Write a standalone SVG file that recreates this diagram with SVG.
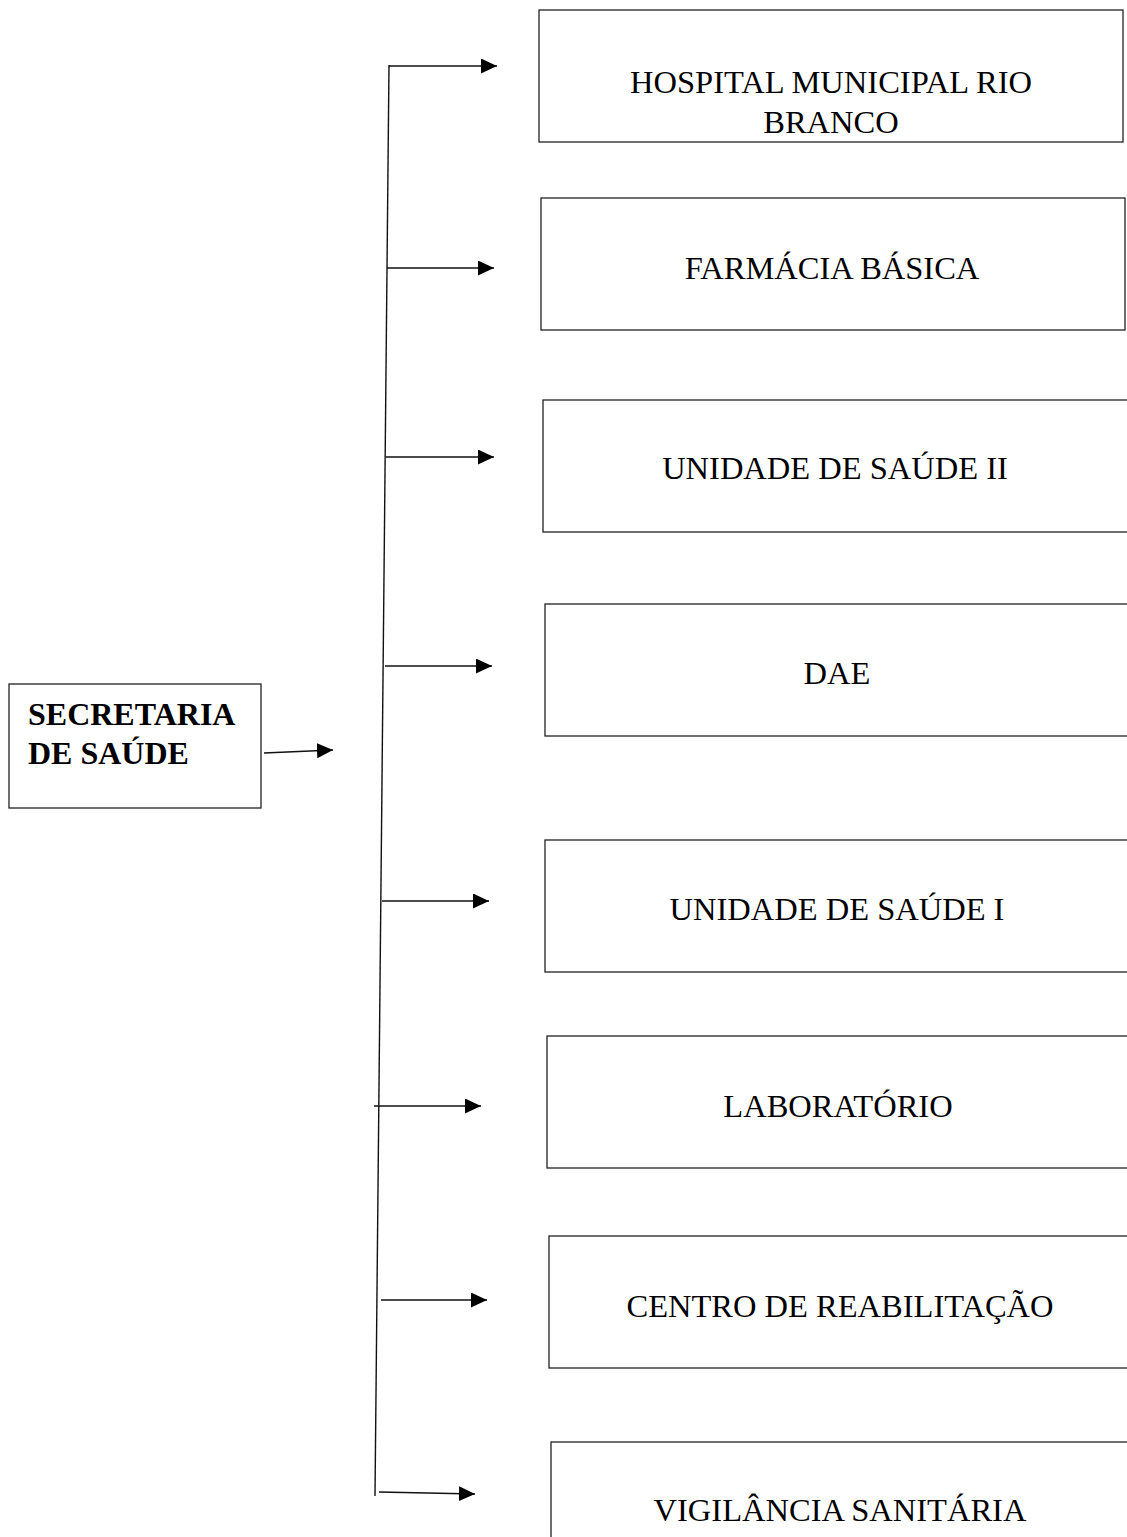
<svg xmlns="http://www.w3.org/2000/svg" width="1127" height="1537" viewBox="0 0 1127 1537">
  <style>
    .box { fill: #fff; stroke: #222; stroke-width: 1.3; }
    .lbl { font-family: "Liberation Serif", "Times New Roman", serif; font-size: 32.5px; fill: #000; text-anchor: middle; }
    .head { font-family: "Liberation Serif", "Times New Roman", serif; font-size: 32px; font-weight: bold; fill: #000; }
    .wire { stroke: #111; stroke-width: 1.4; fill: none; }
  </style>
  <defs>
    <marker id="arrow" markerUnits="userSpaceOnUse" markerWidth="16" markerHeight="16" refX="16" refY="7.5" orient="auto">
      <path d="M0,0 L16,7.5 L0,15 z" fill="#000"/>
    </marker>
  </defs>
  <rect width="1127" height="1537" fill="#fff"/>

  <!-- root node -->
  <g id="secretaria">
    <rect class="box" x="9" y="684" width="252" height="124"/>
    <text class="head" x="28" y="725">SECRETARIA</text>
    <text class="head" x="28" y="764">DE SAÚDE</text>
  </g>

  <!-- child nodes -->
  <g id="hospital">
    <rect class="box" x="539" y="10" width="584" height="132"/>
    <text class="lbl" x="831" y="93">HOSPITAL MUNICIPAL RIO</text>
    <text class="lbl" x="831" y="133">BRANCO</text>
  </g>
  <g id="farmacia">
    <rect class="box" x="541" y="198" width="584" height="132"/>
    <text class="lbl" x="832" y="279">FARMÁCIA BÁSICA</text>
  </g>
  <g id="unidade2">
    <rect class="box" x="543" y="400" width="586" height="132"/>
    <text class="lbl" x="835" y="479">UNIDADE DE SAÚDE II</text>
  </g>
  <g id="dae">
    <rect class="box" x="545" y="604" width="586" height="132"/>
    <text class="lbl" x="837" y="684">DAE</text>
  </g>
  <g id="unidade1">
    <rect class="box" x="545" y="840" width="586" height="132"/>
    <text class="lbl" x="837" y="920">UNIDADE DE SAÚDE I</text>
  </g>
  <g id="laboratorio">
    <rect class="box" x="547" y="1036" width="586" height="132"/>
    <text class="lbl" x="838" y="1117">LABORATÓRIO</text>
  </g>
  <g id="reabilitacao">
    <rect class="box" x="549" y="1236" width="586" height="132"/>
    <text class="lbl" x="840" y="1317">CENTRO DE REABILITAÇÃO</text>
  </g>
  <g id="vigilancia">
    <rect class="box" x="551" y="1442" width="586" height="132"/>
    <text class="lbl" x="840" y="1521">VIGILÂNCIA SANITÁRIA</text>
  </g>

  <!-- connectors -->
  <g id="connectors">
    <line class="wire" x1="264" y1="753" x2="333" y2="750" marker-end="url(#arrow)"/>
    <line class="wire" x1="389" y1="65" x2="375" y2="1496"/>
    <line class="wire" x1="389" y1="66" x2="497" y2="66" marker-end="url(#arrow)"/>
    <line class="wire" x1="387" y1="268" x2="494" y2="268" marker-end="url(#arrow)"/>
    <line class="wire" x1="386" y1="457" x2="494" y2="457" marker-end="url(#arrow)"/>
    <line class="wire" x1="385" y1="666" x2="492" y2="666" marker-end="url(#arrow)"/>
    <line class="wire" x1="382" y1="901" x2="489" y2="901" marker-end="url(#arrow)"/>
    <line class="wire" x1="374" y1="1106" x2="481" y2="1106" marker-end="url(#arrow)"/>
    <line class="wire" x1="381" y1="1300" x2="487" y2="1300" marker-end="url(#arrow)"/>
    <line class="wire" x1="379" y1="1492" x2="475" y2="1494" marker-end="url(#arrow)"/>
  </g>
</svg>
